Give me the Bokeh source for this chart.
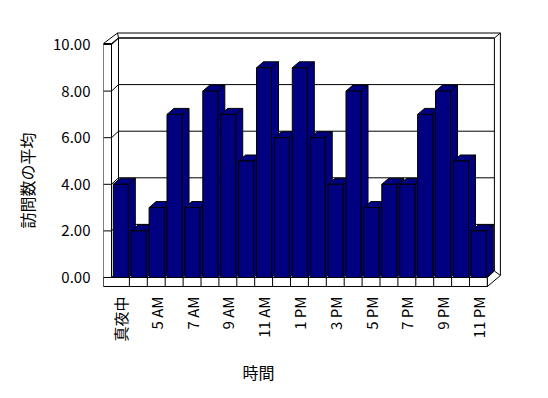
import math
from bokeh.plotting import figure
from bokeh.models import FixedTicker, LinearAxis, Range1d, NumeralTickFormatter, Title
from bokeh.embed import file_html
from bokeh.resources import INLINE

# ---- data ----
hours = ["真夜中", "4 AM", "5 AM", "6 AM", "7 AM", "8 AM", "9 AM", "10 AM", "11 AM",
         "12 PM", "1 PM", "2 PM", "3 PM", "4 PM", "5 PM", "6 PM", "7 PM", "8 PM",
         "9 PM", "10 PM", "11 PM"]
visits = [4, 2, 3, 7, 3, 8, 7, 5, 9, 6, 9, 6, 4, 8, 3, 4, 4, 7, 8, 5, 2]
y_ticks = [0, 2, 4, 6, 8, 10]
x_title = "時間"
y_title = "訪問数の平均"

# ---- geometry (pixel scale of the front plane) ----
PX_X = 17.9   # px per category
PX_Y = 23.3   # px per value unit
X0, Y0 = 111, 277  # canvas px of origin
FL, FR, FT, FB = 103, 510, 28, 292  # frame edges (canvas px)
W, H = 532, 398
def dx(px): return px / PX_X
def dy(px): return px / PX_Y

n = len(visits)
ymax = y_ticks[-1]
FONT = "Noto Sans CJK JP"
NAVY = "#000080"

p = figure(width=W, height=H, output_backend="svg", toolbar_location=None,
           x_range=Range1d((FL - X0) / PX_X, (FR - X0) / PX_X),
           y_range=Range1d((Y0 - FB) / PX_Y, (Y0 - FT) / PX_Y),
           x_axis_type=None, y_axis_type=None,
           min_border_left=FL, min_border_right=W - FR, min_border_top=FT, min_border_bottom=H - FB)
p.outline_line_color = None
p.background_fill_color = "white"
p.border_fill_color = "white"

wdx, wdy = dx(7), dy(6.5)        # wall depth
wall_t = dx(8)                   # left wall thickness
floor_t = dy(9)                  # floor thickness
ox, oy = dx(6), dy(5)            # back wall outer thickness
top_front = ymax + dy(1)

# back wall (white)
p.patch([wdx, n + wdx, n + wdx, wdx], [wdy, wdy, ymax + wdy, ymax + wdy],
        fill_color="white", line_color="black", line_width=1)
# back wall outer rim
p.line([wdx - dx(1), n + wdx + ox, n + wdx + ox], [ymax + wdy + oy, ymax + wdy + oy, dy(2)],
       line_color="black", line_width=1)
p.line([n + wdx, n + wdx + ox], [ymax + wdy, ymax + wdy + oy], line_color="black")
# gridlines on back wall and left wall
for t in y_ticks:
    p.line([wdx, n + wdx], [t + wdy, t + wdy], line_color="black", line_width=1)
    p.line([-wall_t, 0, wdx], [t, t, t + wdy], line_color="black", line_width=1)

# left wall front face and top
p.patch([-wall_t, 0, 0, -wall_t], [-floor_t, -floor_t, top_front, top_front],
        fill_color="white", line_color="black")
p.patch([-wall_t, 0, wdx, wdx - dx(1)], [top_front, top_front, ymax + wdy, ymax + wdy + oy],
        fill_color="white", line_color="black")
for t in y_ticks:
    p.line([-wall_t, 0], [t, t], line_color="black")
p.line([0, wdx], [ymax, ymax + wdy], line_color="black")

# floor front face and right side
p.patch([-wall_t, n, n, -wall_t], [-floor_t, -floor_t, 0, 0], fill_color="white", line_color="black")
for k in range(1, n):
    p.line([k, k], [-floor_t, 0], line_color="black")
p.patch([n, n + wdx, n + wdx + ox, n], [0, wdy, dy(2), -floor_t],
        fill_color="white", line_color="black")

# bars (3D look: side, top, front per bar, drawn left to right)
bdx, bdy = dx(7), dy(6)
xs, ys = [], []
for k, v in enumerate(visits):
    x0, x1 = k + 0.1, k + 0.94
    xs.append([x1, x1 + bdx, x1 + bdx, x1]); ys.append([0, bdy, v + bdy, v])
    xs.append([x0, x1, x1 + bdx, x0 + bdx]); ys.append([v, v, v + bdy, v + bdy])
    xs.append([x0, x1, x1, x0]); ys.append([0, 0, v, v])
p.patches(xs, ys, fill_color=NAVY, line_color="black", line_width=1)

# axes
yaxis = LinearAxis(ticker=FixedTicker(ticks=y_ticks), formatter=NumeralTickFormatter(format="0.00"))
yaxis.axis_line_color = None
yaxis.major_tick_line_color = None
yaxis.minor_tick_line_color = None
yaxis.major_tick_out = 0
yaxis.major_tick_in = 0
yaxis.major_label_standoff = 13
yaxis.major_label_text_font = FONT
yaxis.major_label_text_font_size = "15px"
yaxis.major_label_text_color = "black"
p.add_layout(yaxis, "left")

label_pos = [k + 0.5 for k in range(0, n, 2)]
overrides = {k + 0.5: hours[k] for k in range(0, n, 2)}
xaxis = LinearAxis(ticker=FixedTicker(ticks=label_pos), major_label_overrides=overrides)
xaxis.axis_line_color = None
xaxis.major_tick_line_color = None
xaxis.minor_tick_line_color = None
xaxis.major_tick_out = 0
xaxis.major_tick_in = 0
xaxis.major_label_standoff = 4
xaxis.major_label_orientation = math.pi / 2
xaxis.major_label_text_font = FONT
xaxis.major_label_text_font_size = "15px"
xaxis.major_label_text_color = "black"
p.add_layout(xaxis, "below")

# axis titles
ytitle = Title(text=y_title, align="left", offset=64, standoff=23,
               text_font=FONT, text_font_size="16px", text_font_style="normal",
               text_color="black")
p.add_layout(ytitle, "left")
xtitle = Title(text=x_title, align="left", offset=139, standoff=27,
               text_font=FONT, text_font_size="16px", text_font_style="normal",
               text_color="black")
p.add_layout(xtitle, "below")

open("out.html", "w").write(file_html(p, INLINE))
